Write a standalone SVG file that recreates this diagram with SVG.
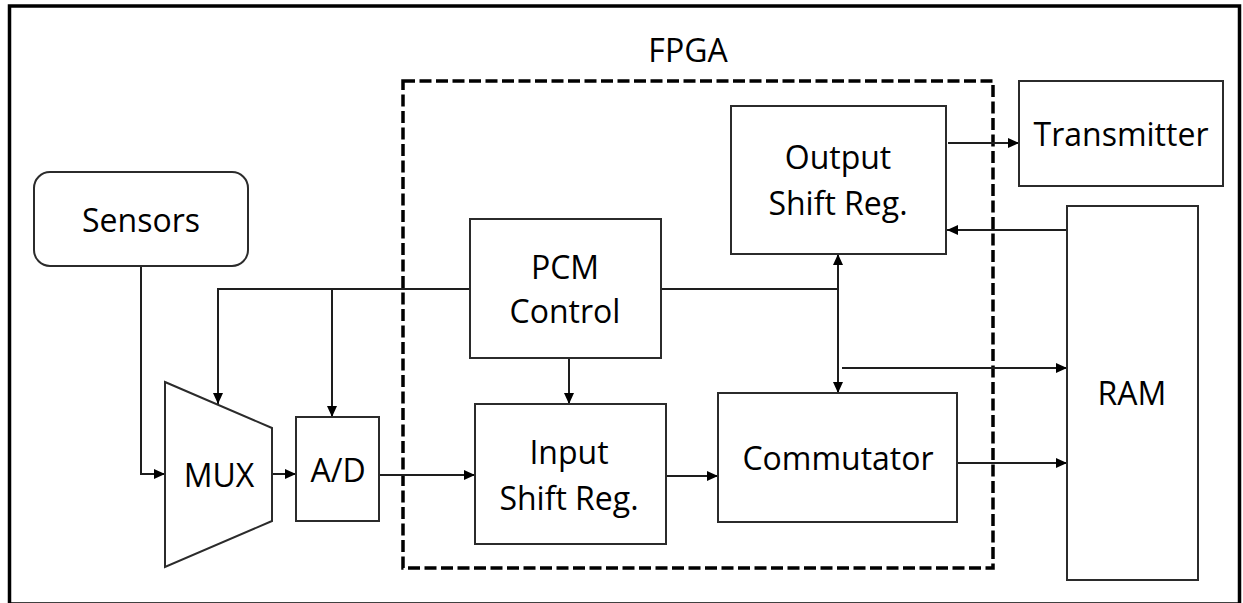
<svg xmlns="http://www.w3.org/2000/svg" width="1243" height="603" viewBox="0 0 1243 603">
  <style>
    .box { fill: #ffffff; stroke: #2b2b2b; stroke-width: 2; }
    .wire { fill: none; stroke: #1e1e1e; stroke-width: 2; }
    .lbl { font-family: "Open Sans", "Noto Sans", "DejaVu Sans", sans-serif; font-size: 32px; fill: #000000; text-anchor: middle; }
    .fpga { fill: none; stroke: #000000; stroke-width: 3.5; stroke-dasharray: 12 4.5; }
  </style>
  <defs>
    <marker id="arrow" markerUnits="userSpaceOnUse" markerWidth="11" markerHeight="10" refX="11" refY="5" orient="auto-start-reverse">
      <path d="M0,0 L11,5 L0,10 Z" fill="#000000"/>
    </marker>
  </defs>

  <rect x="0" y="0" width="1243" height="603" fill="#ffffff"/>
  <!-- outer frame -->
  <rect x="9.5" y="6" width="1230" height="598" fill="none" stroke="#000000" stroke-width="3.5"/>

  <!-- FPGA boundary -->
  <g id="fpga">
    <rect class="fpga" x="403" y="81" width="590" height="487"/>
    <text class="lbl" x="688" y="62">FPGA</text>
  </g>

  <g id="connectors">
    <path class="wire" d="M141,266 V474 H165" marker-end="url(#arrow)"/>
    <path class="wire" d="M470,289 H218 V404" marker-end="url(#arrow)"/>
    <path class="wire" d="M332,289 V417" marker-end="url(#arrow)"/>
    <path class="wire" d="M272,474 H296" marker-end="url(#arrow)"/>
    <path class="wire" d="M380,475 H475" marker-end="url(#arrow)"/>
    <path class="wire" d="M569,358 V404" marker-end="url(#arrow)"/>
    <path class="wire" d="M666,476 H718" marker-end="url(#arrow)"/>
    <path class="wire" d="M661,289 H838"/>
    <path class="wire" d="M838,254 V393" marker-start="url(#arrow)" marker-end="url(#arrow)"/>
    <path class="wire" d="M842,368 H1067" marker-end="url(#arrow)"/>
    <path class="wire" d="M958,463 H1067" marker-end="url(#arrow)"/>
    <path class="wire" d="M948,143 H1019" marker-end="url(#arrow)"/>
    <path class="wire" d="M1067,230 H947" marker-end="url(#arrow)"/>
  </g>

  <g id="sensors">
    <rect class="box" x="34" y="172" width="214" height="94" rx="16" ry="16"/>
    <text class="lbl" x="141" y="232">Sensors</text>
  </g>

  <g id="mux">
    <path class="box" d="M165,382 L272,428 L272,521 L165,567 Z"/>
    <text class="lbl" x="219" y="487">MUX</text>
  </g>

  <g id="adc">
    <rect class="box" x="296" y="417" width="83" height="104"/>
    <text class="lbl" x="338" y="482">A/D</text>
  </g>

  <g id="pcm-control">
    <rect class="box" x="470" y="219" width="191" height="139"/>
    <text class="lbl" x="565" y="279">PCM</text>
    <text class="lbl" x="565" y="323">Control</text>
  </g>

  <g id="input-shift-reg">
    <rect class="box" x="475" y="404" width="191" height="140"/>
    <text class="lbl" x="569" y="464">Input</text>
    <text class="lbl" x="569" y="510">Shift Reg.</text>
  </g>

  <g id="commutator">
    <rect class="box" x="718" y="393" width="239" height="129"/>
    <text class="lbl" x="838" y="470">Commutator</text>
  </g>

  <g id="output-shift-reg">
    <rect class="box" x="731" y="106" width="215" height="148"/>
    <text class="lbl" x="838" y="169">Output</text>
    <text class="lbl" x="838" y="215">Shift Reg.</text>
  </g>

  <g id="transmitter">
    <rect class="box" x="1019" y="81" width="204" height="105"/>
    <text class="lbl" x="1121" y="146">Transmitter</text>
  </g>

  <g id="ram">
    <rect class="box" x="1067" y="206" width="131" height="374"/>
    <text class="lbl" x="1132" y="405">RAM</text>
  </g>
</svg>
